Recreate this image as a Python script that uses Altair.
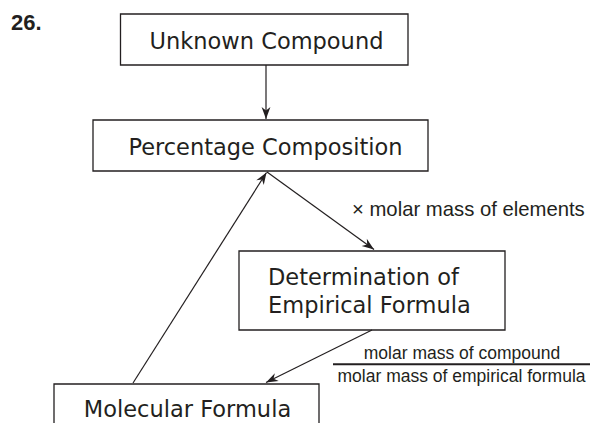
import math
import altair as alt
import pandas as pd

# ---- boxes (pixel-space data coordinates) ----
box_name = ["unknown", "percentage", "empirical", "molecular"]
box_x1 = [120.5, 93, 239, 54]
box_x2 = [408, 428, 505, 319]
box_y1 = [14, 120, 251, 384]
box_y2 = [65, 171, 330, 445]

# ---- box texts ----
btxt = ["Unknown Compound", "Percentage Composition", "Determination of",
        "Empirical Formula", "Molecular Formula"]
btxt_x = [266.5, 265.5, 268, 268, 187.5]
btxt_y = [49, 154.5, 285, 313, 416.5]
btxt_align = ["center", "center", "left", "left", "center"]

# ---- arrows ----
arr_x1 = [266, 133, 267, 372]
arr_y1 = [65, 383, 172, 330]
arr_x2 = [266, 266.5, 374, 266]
arr_y2 = [119, 172.5, 249.5, 382.5]

# ---- annotations ----
ann_txt = ["× molar mass of elements", "molar mass of compound",
           "molar mass of empirical formula"]
ann_x = [352, 462, 461.5]
ann_y = [216, 359, 381.5]
ann_align = ["left", "center", "center"]
ann_size = [20.3, 17.5, 17.5]

frac_x1, frac_x2, frac_y = [333], [590], [364.3]

INK = "#231f20"

xs = alt.Scale(domain=[8, 590])
ys = alt.Scale(domain=[8, 423], reverse=True)

boxes = pd.DataFrame(dict(name=box_name, x1=box_x1, x2=box_x2, y1=box_y1, y2=box_y2))
rects = alt.Chart(boxes).mark_rect(fill="white", stroke=INK, strokeWidth=1.3, clip=True).encode(
    x=alt.X("x1:Q", scale=xs, axis=None), x2="x2:Q",
    y=alt.Y("y1:Q", scale=ys, axis=None), y2="y2:Q")

arrows = pd.DataFrame(dict(x1=arr_x1, y1=arr_y1, x2=arr_x2, y2=arr_y2))
arrows["ang"] = [
    math.degrees(math.atan2(x2 - x1, -(y2 - y1))) % 360
    for x1, y1, x2, y2 in zip(arr_x1, arr_y1, arr_x2, arr_y2)
]
lines = alt.Chart(arrows).mark_rule(color=INK, strokeWidth=1.2).encode(
    x=alt.X("x1:Q", scale=xs, axis=None), x2="x2:Q",
    y=alt.Y("y1:Q", scale=ys, axis=None), y2="y2:Q")

head_path = "M0,0 L0.42,1.15 L0,0.8 L-0.42,1.15 Z"
heads = alt.Chart(arrows).mark_point(shape=head_path, filled=True, size=440,
                                      color=INK, opacity=1, strokeWidth=0).encode(
    x=alt.X("x2:Q", scale=xs, axis=None),
    y=alt.Y("y2:Q", scale=ys, axis=None),
    angle=alt.Angle("ang:Q", scale=None))

bt = pd.DataFrame(dict(t=btxt, x=btxt_x, y=btxt_y, a=btxt_align))
layers = [rects, lines, heads]
for al in ["center", "left"]:
    sub = bt[bt.a == al]
    layers.append(alt.Chart(sub).mark_text(align=al, baseline="alphabetic",
                                           font="DejaVu Sans", fontSize=22.5,
                                           color=INK).encode(
        x=alt.X("x:Q", scale=xs, axis=None), y=alt.Y("y:Q", scale=ys, axis=None), text="t:N"))

an = pd.DataFrame(dict(t=ann_txt, x=ann_x, y=ann_y, a=ann_align, s=ann_size))
for i in range(len(an)):
    sub = an.iloc[[i]]
    layers.append(alt.Chart(sub).mark_text(align=ann_align[i], baseline="alphabetic",
                                           font="Liberation Sans", fontSize=ann_size[i],
                                           color=INK).encode(
        x=alt.X("x:Q", scale=xs, axis=None), y=alt.Y("y:Q", scale=ys, axis=None), text="t:N"))

frac = pd.DataFrame(dict(x1=frac_x1, x2=frac_x2, y=frac_y))
layers.append(alt.Chart(frac).mark_rule(color=INK, strokeWidth=2).encode(
    x=alt.X("x1:Q", scale=xs, axis=None), x2="x2:Q",
    y=alt.Y("y:Q", scale=ys, axis=None)))

num = pd.DataFrame(dict(t=["26."], x=[11], y=[29.5]))
layers.append(alt.Chart(num).mark_text(align="left", baseline="alphabetic",
                                       font="Liberation Sans", fontSize=22,
                                       fontWeight="bold", color=INK).encode(
    x=alt.X("x:Q", scale=xs, axis=None), y=alt.Y("y:Q", scale=ys, axis=None), text="t:N"))

chart = alt.layer(*layers).properties(
    width=582, height=415, autosize=alt.AutoSizeParams(type="none"), padding=0
).configure_view(strokeWidth=0)

chart.save("out.html", embed_options={"renderer": "svg", "actions": False})
